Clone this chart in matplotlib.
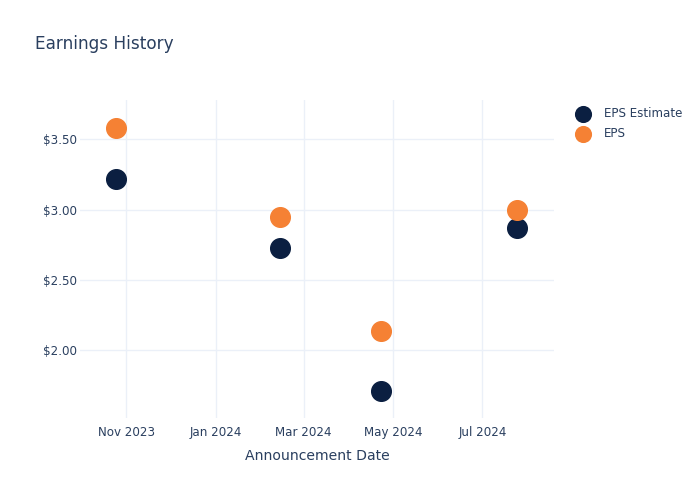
import matplotlib.pyplot as plt
import matplotlib.dates as mdates
import numpy as np
import pandas as pd

# data
dates = pd.to_datetime(['2023-10-25', '2024-02-14', '2024-04-23', '2024-07-25'])
eps_estimate = [3.22, 2.73, 1.71, 2.87]
eps_actual = [3.58, 2.95, 2.14, 3.00]
y_ticks = [2.0, 2.5, 3.0, 3.5]
x_ticks = pd.to_datetime(['2023-11-01', '2024-01-01', '2024-03-01', '2024-05-01', '2024-07-01'])

text_col = '#2a3f5f'
grid_col = '#ebf0f8'

fig = plt.figure(figsize=(7, 5), dpi=100)
ax = fig.add_axes([80 / 700, 82 / 500, 474 / 700, 318 / 500])

ax.scatter(dates, eps_estimate, s=200, color='#0b1f41', label='EPS Estimate', zorder=3)
ax.scatter(dates, eps_actual, s=200, color='#f58134', label='EPS', zorder=3)

ax.set_xlim(pd.Timestamp('2023-09-30 10:00'), pd.Timestamp('2024-08-18 22:00'))
ax.set_ylim(1.518, 3.78)

ax.set_yticks(y_ticks)
ax.set_yticklabels(['$%.2f' % v for v in y_ticks])
ax.set_xticks(x_ticks)
ax.xaxis.set_major_formatter(mdates.DateFormatter('%b %Y'))

ax.tick_params(length=0, labelsize=8.6, colors=text_col)
ax.tick_params(axis='y', pad=2)
ax.tick_params(axis='x', pad=6)
ax.grid(True, color=grid_col, linewidth=1)
ax.set_axisbelow(True)
for s in ax.spines.values():
    s.set_visible(False)

ax.set_xlabel('Announcement Date', fontsize=10.1, color=text_col, labelpad=7)

fig.text(35 / 700, 1 - 44 / 500, 'Earnings History', fontsize=12.2, color=text_col, va='center')

leg = ax.legend(loc='upper left', bbox_to_anchor=(1.013, 1.012), frameon=False,
                fontsize=8.6, labelcolor=text_col, handletextpad=0.8, labelspacing=0.58,
                markerscale=0.8)

plt.savefig('out.png', dpi=100)
